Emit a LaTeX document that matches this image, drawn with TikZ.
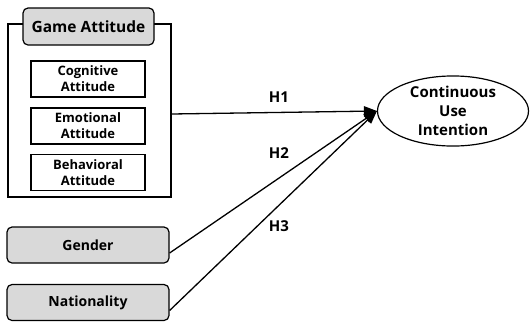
\documentclass[tikz,border=0pt]{standalone}
\usepackage{fontspec}
\setmainfont{Open Sans}
\usetikzlibrary{arrows.meta,shapes.geometric}
\begin{document}
\begin{tikzpicture}[x=1pt,y=-1pt,
  graybox/.style={draw,line width=1.2pt,rounded corners=5pt,fill=gray!30,font=\bfseries\fontsize{14}{16}\selectfont,inner sep=0pt},
  innerbox/.style={draw,line width=1.2pt,fill=white,font=\bfseries\fontsize{13}{16}\selectfont,align=center,inner sep=0pt},
  conn/.style={line width=1.3pt,-{Triangle[length=13pt,width=10pt]}},
  hlab/.style={font=\bfseries\fontsize{15}{17}\selectfont}]
\useasboundingbox (0,0) rectangle (530,322);
% outer container
\node[draw,line width=1.2pt,minimum width=163pt,minimum height=173pt,inner sep=0pt] (outer) at (89.5,110.5) {};
\node[graybox,minimum width=131pt,minimum height=37pt,font=\bfseries\fontsize{15.5}{17}\selectfont] (ga) at (88.5,26.5) {Game Attitude};
\node[innerbox,minimum width=114pt,minimum height=36pt] (cog) at (88,79) {Cognitive\\Attitude};
\node[innerbox,minimum width=114pt,minimum height=36pt] (emo) at (88,126) {Emotional\\Attitude};
\node[innerbox,minimum width=114pt,minimum height=36pt] (beh) at (88,172.5) {Behavioral\\Attitude};
% dependent
\node[draw,ellipse,line width=1.2pt,minimum width=151pt,minimum height=65pt,inner sep=0pt,align=center,font=\bfseries\fontsize{15}{19}\selectfont] (cui) at (453,111) {Continuous\\Use\\Intention};
% other boxes
\node[graybox,minimum width=162pt,minimum height=36pt] (gen) at (88,245) {Gender};
\node[graybox,minimum width=162pt,minimum height=36pt] (nat) at (88,302.5) {Nationality};
% connectors
\coordinate (tip) at (cui.west);
\draw[conn] (outer.east |- 0,114) -- (tip);
\draw[conn] ([yshift=-8pt]gen.east) -- (tip);
\draw[conn] ([yshift=-8pt]nat.east) -- (tip);
\node[hlab] (h1) at (279,97) {H1};
\node[hlab] (h2) at (279,153) {H2};
\node[hlab] (h3) at (279,226) {H3};
\end{tikzpicture}
\end{document}
